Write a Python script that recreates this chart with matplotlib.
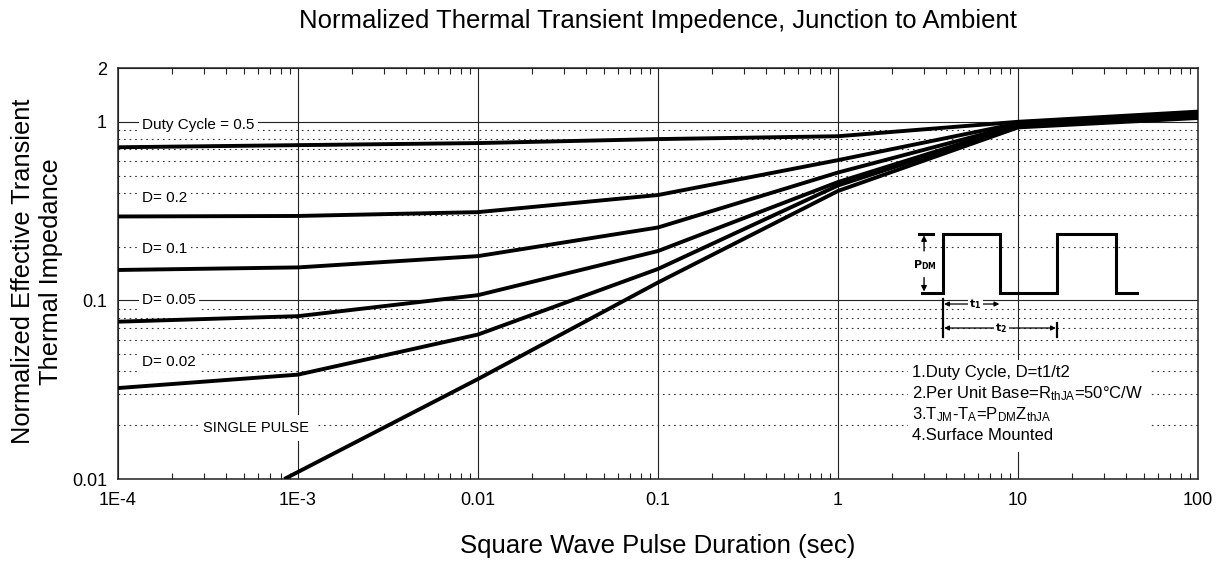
import matplotlib
matplotlib.use("Agg")
import matplotlib.pyplot as plt
import matplotlib.ticker as tck
from matplotlib.patches import Rectangle

plt.rcParams["font.family"] = ["Liberation Sans", "DejaVu Sans"]
plt.rcParams["mathtext.default"] = "regular"

# pulse duration (sec) at the curve break points
pulse_time = [1e-4, 1e-3, 1e-2, 1e-1, 1, 10, 100]
duty_05 = [0.72, 0.74, 0.76, 0.80, 0.83, 1.00, 1.14]
duty_02 = [0.295, 0.297, 0.312, 0.389, 0.61, 0.98, 1.12]
duty_01 = [0.148, 0.153, 0.177, 0.256, 0.52, 0.96, 1.10]
duty_005 = [0.076, 0.0816, 0.107, 0.189, 0.46, 0.95, 1.08]
duty_002 = [0.0323, 0.0384, 0.0644, 0.150, 0.44, 0.94, 1.07]
single_time = [8.4e-4, 1e-2, 1e-1, 1, 10, 100]
single_pulse = [0.01, 0.0363, 0.126, 0.41, 0.93, 1.05]

x_ticks = [1e-4, 1e-3, 1e-2, 1e-1, 1, 10, 100]
x_tick_labels = ["1E-4", "1E-3", "0.01", "0.1", "1", "10", "100"]
y_ticks = [0.01, 0.1, 1, 2]
y_tick_labels = ["0.01", "0.1", "1", "2"]

# curve labels: text, x, y
curve_labels = [
    ("Duty Cycle = 0.5", 1.36e-4, 0.96),
    ("D= 0.2", 1.36e-4, 0.374),
    ("D= 0.1", 1.36e-4, 0.194),
    ("D= 0.05", 1.36e-4, 0.1),
    ("D= 0.02", 1.36e-4, 0.0453),
]

notes = [
    "1.Duty Cycle, D=t1/t2",
    "2.Per Unit Base=R$_{thJA}$=50°C/W",
    "3.T$_{JM}$-T$_{A}$=P$_{DM}$Z$_{thJA}$",
    "4.Surface Mounted",
]

LINE_W = 2.8
fig = plt.figure(figsize=(12.24, 5.64), dpi=100)
ax = fig.add_axes([0.0964, 0.1507, 0.8824, 0.7287])
ax.set_xscale("log")
ax.set_yscale("log")
ax.set_xlim(1e-4, 100)
ax.set_ylim(0.01, 2)

for spine in ax.spines.values():
    spine.set_linewidth(1.1)
    spine.set_color("#222222")

ax.set_xticks(x_ticks)
ax.set_xticklabels(x_tick_labels)
ax.set_yticks(y_ticks)
ax.set_yticklabels(y_tick_labels)
ax.xaxis.set_minor_locator(tck.LogLocator(base=10, subs=range(2, 10), numticks=20))
ax.xaxis.set_minor_formatter(tck.NullFormatter())
ax.yaxis.set_minor_locator(tck.FixedLocator(
    [m * d for d in (0.01, 0.1) for m in range(2, 10)]))
ax.yaxis.set_minor_formatter(tck.NullFormatter())

ax.tick_params(axis="x", which="both", direction="in", top=True, bottom=True,
               labelsize=13, pad=9)
ax.tick_params(axis="x", which="major", length=0)
ax.tick_params(axis="x", which="minor", length=4.3, width=0.8, color="#222222")
ax.tick_params(axis="y", which="both", length=0, labelsize=13, pad=8)

ax.grid(which="major", axis="both", color="#222222", linewidth=0.8, linestyle="-")
ax.grid(which="minor", axis="y", color="#333333", linewidth=0.8,
        linestyle=(0, (1.5, 3.5)))

ax.plot(pulse_time, duty_05, color="black", lw=LINE_W, zorder=3)
ax.plot(pulse_time, duty_02, color="black", lw=LINE_W, zorder=3)
ax.plot(pulse_time, duty_01, color="black", lw=LINE_W, zorder=3)
ax.plot(pulse_time, duty_005, color="black", lw=LINE_W, zorder=3)
ax.plot(pulse_time, duty_002, color="black", lw=LINE_W, zorder=3)
ax.plot(single_time, single_pulse, color="black", lw=LINE_W, zorder=3,
        solid_capstyle="butt", clip_on=True)

box = dict(facecolor="white", edgecolor="none", pad=2.5)
for txt, xv, yv in curve_labels:
    ax.text(xv, yv, txt, fontsize=11, ha="left", va="center", bbox=box, zorder=4)
ax.text(2.97e-4, 0.0193, "SINGLE PULSE", fontsize=10.5, ha="left", va="center",
        bbox=dict(facecolor="white", edgecolor="none", pad=4), zorder=4)

# pulse sketch (axes fraction coordinates)
tr = ax.transAxes
px = [0.7444, 0.7639, 0.7639, 0.8167, 0.8167, 0.8694, 0.8694, 0.9241, 0.9241, 0.9435]
py = [0.4526, 0.4526, 0.5961, 0.5961, 0.4526, 0.4526, 0.5961, 0.5961, 0.4526, 0.4526]
ax.plot(px, py, transform=tr, color="black", lw=2.2, zorder=4, solid_joinstyle="miter")
ax.plot([0.7417, 0.7546], [0.5961, 0.5961], transform=tr, color="black", lw=2.2, zorder=4)
arrow = dict(arrowstyle="-|>", color="black", lw=1.0, mutation_scale=8, shrinkA=0, shrinkB=0)
ax.annotate("", xy=(0.7463, 0.593), xytext=(0.7463, 0.555), xycoords=tr,
            textcoords=tr, arrowprops=arrow, zorder=4)
ax.annotate("", xy=(0.7463, 0.456), xytext=(0.7463, 0.49), xycoords=tr,
            textcoords=tr, arrowprops=arrow, zorder=4)
ax.text(0.7475, 0.521, r"$\mathbf{P_{DM}}$", transform=tr, fontsize=8,
        ha="center", va="center", zorder=4)
ax.plot([0.7639, 0.7639], [0.3455, 0.438], transform=tr, color="black", lw=1.6, zorder=4)
ax.plot([0.8694, 0.8694], [0.3455, 0.3796], transform=tr, color="black", lw=1.6, zorder=4)
darrow = dict(arrowstyle="<|-|>", color="black", lw=0.9, mutation_scale=7, shrinkA=0, shrinkB=0)
ax.annotate("", xy=(0.7649, 0.4258), xytext=(0.8160, 0.4258), xycoords=tr,
            textcoords=tr, arrowprops=darrow, zorder=4)
ax.annotate("", xy=(0.7649, 0.3674), xytext=(0.8684, 0.3674), xycoords=tr,
            textcoords=tr, arrowprops=darrow, zorder=4)
small_box = dict(facecolor="white", edgecolor="none", pad=1)
ax.text(0.7935, 0.4258, r"$\mathbf{t_1}$", transform=tr, fontsize=8,
        ha="center", va="center", bbox=small_box, zorder=5)
ax.text(0.818, 0.3674, r"$\mathbf{t_2}$", transform=tr, fontsize=8,
        ha="center", va="center", bbox=small_box, zorder=5)

# notes block
ax.add_patch(Rectangle((0.7315, 0.065), 0.224, 0.2245, transform=tr,
                       facecolor="white", edgecolor="none", zorder=2.6))
for i, note in enumerate(notes):
    ax.text(0.7349, 0.2596 - i * 0.0514, note, transform=tr, fontsize=12,
            ha="left", va="center", zorder=5)

ax.set_title("Normalized Thermal Transient Impedence, Junction to Ambient",
             fontsize=18.5, pad=29)
ax.set_xlabel("Square Wave Pulse Duration (sec)", fontsize=18.5)
ax.xaxis.set_label_coords(0.5, -0.135)
ax.set_ylabel("Normalized Effective Transient\nThermal Impedance", fontsize=18.3,
              linespacing=1.2)
ax.yaxis.label.set_va("center")
ax.yaxis.set_label_coords(-0.075, 0.505)

fig.savefig("out.png", dpi=100)
